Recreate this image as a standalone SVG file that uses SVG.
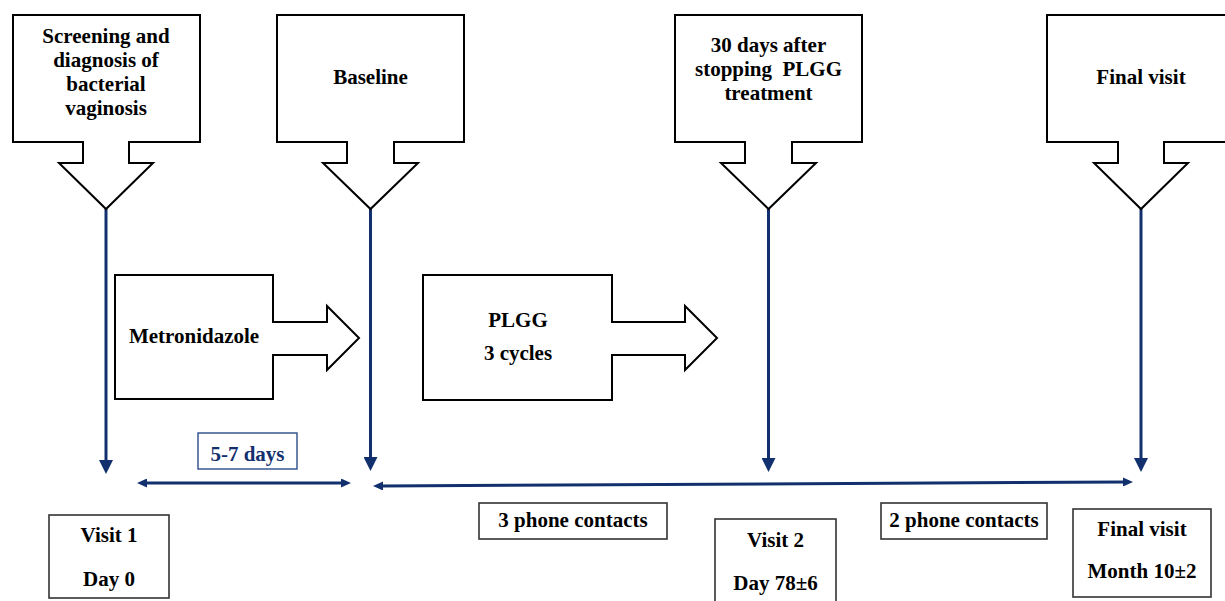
<svg xmlns="http://www.w3.org/2000/svg" width="1225" height="601" viewBox="0 0 1225 601">
<style>
text{font-family:"Liberation Serif","Times New Roman",serif;font-weight:bold;font-size:21px;fill:#000;text-anchor:middle}
.shape{fill:#fff;stroke:#000;stroke-width:2;stroke-linejoin:miter}
.box{fill:#fff;stroke:#333;stroke-width:1.6}
.navybox{fill:#fff;stroke:#2b4a8a;stroke-width:1.4}
.navy{fill:#13306e}
.conn{stroke:#13306e;stroke-width:3;fill:none}
</style>
<defs>
<marker id="vhead" markerUnits="userSpaceOnUse" markerWidth="14" markerHeight="14" viewBox="0 0 14 14" refX="2" refY="7" orient="auto">
<path d="M0,0 L14,7 L0,14 z" fill="#13306e"/>
</marker>
<marker id="hhead" markerUnits="userSpaceOnUse" markerWidth="10" markerHeight="9" viewBox="0 0 10 9" refX="2" refY="4.5" orient="auto-start-reverse">
<path d="M0,0 L10,4.5 L0,9 z" fill="#13306e"/>
</marker>
</defs>
<rect width="1225" height="601" fill="#fff"/>

<g id="connectors">
<line class="conn" x1="106" y1="209" x2="106" y2="462" marker-end="url(#vhead)"/>
<line class="conn" x1="370.5" y1="209" x2="370.5" y2="459" marker-end="url(#vhead)"/>
<line class="conn" x1="768.5" y1="209" x2="768.5" y2="460" marker-end="url(#vhead)"/>
<line class="conn" x1="1141" y1="209" x2="1141" y2="460" marker-end="url(#vhead)"/>
<line class="conn" x1="145" y1="483" x2="343" y2="483" marker-start="url(#hhead)" marker-end="url(#hhead)"/>
<line class="conn" x1="381" y1="486" x2="1125" y2="482" marker-start="url(#hhead)" marker-end="url(#hhead)"/>
</g>

<g id="screening">
<path class="shape" d="M13,15 H200 V142 H129 V163 H153 L106,209 L59,163 H83 V142 H13 Z"/>
<text x="106" y="43">Screening and</text>
<text x="106" y="67">diagnosis of</text>
<text x="106" y="91">bacterial</text>
<text x="106" y="115">vaginosis</text>
</g>

<g id="baseline">
<path class="shape" d="M277,15 H464 V142 H394 V163 H418 L370.5,209 L323,163 H347 V142 H277 Z"/>
<text x="370.5" y="84">Baseline</text>
</g>

<g id="after30">
<path class="shape" d="M675,15 H862 V142 H792 V163 H816 L768.5,209 L721,163 H745 V142 H675 Z"/>
<text x="768.5" y="52">30 days after</text>
<text x="768.5" y="76" xml:space="preserve">stopping  PLGG</text>
<text x="768.5" y="100">treatment</text>
</g>

<g id="finalvisit-top">
<path class="shape" d="M1047,15 H1235 V142 H1164 V163 H1188 L1141,209 L1094,163 H1118 V142 H1047 Z"/>
<text x="1141" y="84">Final visit</text>
</g>

<g id="metronidazole">
<path class="shape" d="M115,275 H273 V322 H327 V306 L359,338 L327,370 V355 H273 V399 H115 Z"/>
<text x="194" y="343">Metronidazole</text>
</g>

<g id="plgg">
<path class="shape" d="M423,275 H612 V322 H685 V306 L717,338 L685,370 V355 H612 V400 H423 Z"/>
<text x="518" y="327">PLGG</text>
<text x="518" y="360">3 cycles</text>
</g>

<g id="days57">
<rect class="navybox" x="198" y="433" width="99" height="36"/>
<text class="navy" x="247.5" y="461">5-7 days</text>
</g>

<g id="visit1">
<rect class="box" x="49" y="515" width="120" height="83"/>
<text x="109" y="542">Visit 1</text>
<text x="109" y="586">Day 0</text>
</g>

<g id="phone3">
<rect class="box" x="479" y="503" width="188" height="36"/>
<text x="573" y="527">3 phone contacts</text>
</g>

<g id="visit2">
<rect class="box" x="715" y="519" width="121" height="95"/>
<text x="775.5" y="547">Visit 2</text>
<text x="775.5" y="590">Day 78±6</text>
</g>

<g id="phone2">
<rect class="box" x="881" y="503" width="166" height="36"/>
<text x="964" y="527">2 phone contacts</text>
</g>

<g id="finalvisit">
<rect class="box" x="1073" y="509" width="138" height="88"/>
<text x="1142" y="536">Final visit</text>
<text x="1142" y="578">Month 10±2</text>
</g>
</svg>
